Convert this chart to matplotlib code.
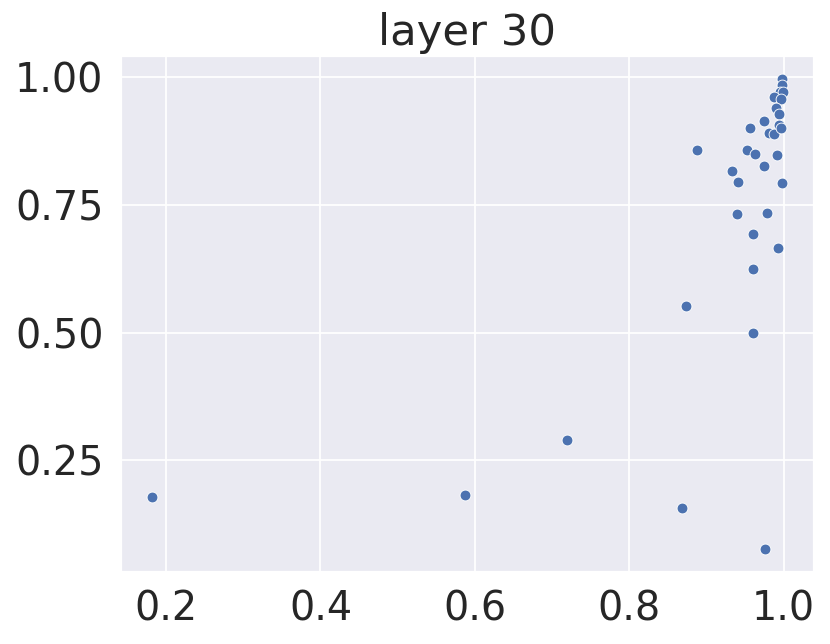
import numpy as np
import pandas as pd
import matplotlib
matplotlib.use('Agg')
import matplotlib.pyplot as plt
import seaborn as sns

# values (layer 30)
x_vals = [0.998, 0.998, 0.995, 0.999, 0.987, 0.997, 0.990, 0.994, 0.975, 0.994,
          0.957, 0.981, 0.988, 0.997, 0.888, 0.952, 0.963, 0.991, 0.975, 0.933,
          0.941, 0.998, 0.940, 0.978, 0.960, 0.993, 0.960, 0.873, 0.961, 0.719,
          0.587, 0.182, 0.869, 0.976]
y_vals = [0.996, 0.985, 0.972, 0.971, 0.962, 0.957, 0.941, 0.928, 0.915, 0.907,
          0.901, 0.892, 0.889, 0.900, 0.858, 0.858, 0.849, 0.848, 0.827, 0.817,
          0.796, 0.793, 0.732, 0.734, 0.693, 0.665, 0.625, 0.553, 0.499, 0.290,
          0.182, 0.178, 0.157, 0.076]

df = pd.DataFrame({'x': x_vals, 'y': y_vals})

sns.set_theme(style='darkgrid', font_scale=2)

fig = plt.figure(figsize=(830 / 130, 644 / 130), dpi=130)
ax = fig.add_axes([0.1454, 0.1113, 0.9811 - 0.1454, 0.913 - 0.1113])
sns.scatterplot(data=df, x='x', y='y', ax=ax)
ax.set_xlabel('')
ax.set_ylabel('')
ax.set_title('layer 30')
ax.set_xticks([0.2, 0.4, 0.6, 0.8, 1.0])
ax.set_yticks([0.25, 0.50, 0.75, 1.00])

fig.savefig('out.png', dpi=130)
